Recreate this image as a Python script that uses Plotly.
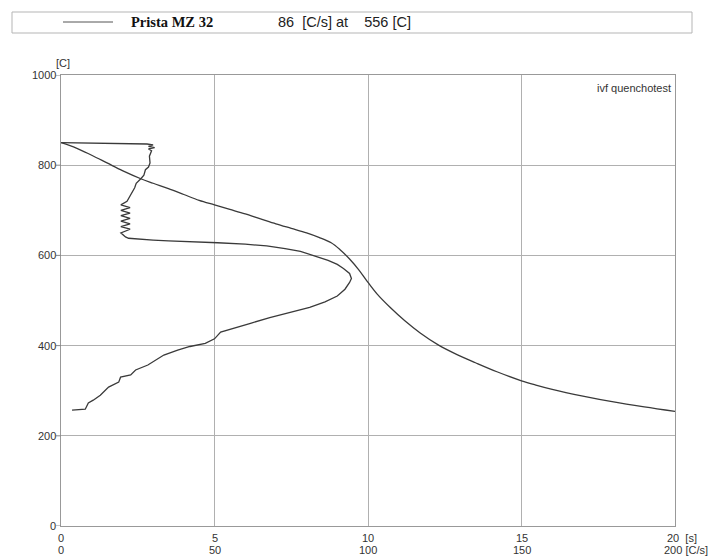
import plotly.graph_objects as go

# ---- data ----
cool_time = [0, 0.5, 1.0, 1.5, 2.0, 2.6, 3.0, 3.5, 4.0, 4.5, 5.0, 5.5, 6.0, 6.5, 7.0, 7.5,
             8.0, 8.4, 8.8, 9.1, 9.4, 9.7, 10.0, 10.3, 10.7, 11.2, 11.7, 12.3, 12.9, 13.5,
             14.2, 15.0, 15.5, 16.0, 17.0, 18.0, 19.0, 20.0]
cool_temp = [850, 838, 822, 805, 788, 770, 760, 748, 735, 722, 712, 702, 692, 681, 670, 660,
             650, 640, 628, 612, 592, 568, 540, 514, 486, 455, 428, 401, 380, 362,
             342, 322, 312, 303, 288, 275, 264, 254]

rate_val = [0, 10, 20, 28, 30, 28.5, 30.5, 28.5, 29.5, 28.8, 29, 28.5, 27.5, 27, 26, 24.5, 24,
            23, 22.5, 22, 21.5,
            19.5, 22.5, 19.5, 22.5, 19.5, 22.5, 19.5, 22.5, 19.5, 22.5, 19.5, 20.5, 21,
            22, 25, 30, 35, 45, 51, 60, 67, 73, 78, 83, 87, 90, 92, 94, 94.6,
            94, 92.5, 90, 86, 81, 75, 68, 62, 57, 52, 50, 47, 42, 38, 33.5, 28.3, 24.3,
            22.7, 19.4, 18.8, 15.5, 12.8, 10.5, 8.9, 7.9, 3.6]
rate_temp = [850, 849, 848, 847, 845, 842, 839, 836, 832, 820, 805, 796, 790, 778, 770, 760, 750,
             738, 730, 725, 720,
             712, 706, 700, 694, 688, 682, 676, 670, 664, 658, 650, 644, 641,
             638, 636, 634, 632, 630, 628, 625, 621, 615, 609, 598, 589, 580, 571, 560, 549,
             540, 525, 510, 497, 485, 475, 462, 450, 440, 430, 415, 405, 398, 390, 379, 357, 346,
             335, 330, 319, 308, 290, 279, 273, 259, 257]

x_ticks = [0, 5, 10, 15, 20]
x_time_labels = ["0", "5", "10", "15", "20  [s]"]
x_rate_labels = ["0", "50", "100", "150", "200 [C/s]"]
y_ticks = [0, 200, 400, 600, 800, 1000]
y_labels = ["0", "200", "400", "600", "800", "1000"]

title_name = "Prista MZ 32"
title_info = "86  [C/s] at    556 [C]"
corner_text = "ivf quenchotest"

# ---- geometry (screen pixels; the page body adds an 8px offset) ----
OFF = 8
W, H = 716 - OFF, 560 - OFF
L, R, T, B = 61, 675, 75, 526


def px(x):
    return (x - L) / (R - L)


def py(y):
    return (B - y) / (B - T)


fig = go.Figure()
line_style = dict(color="#3a3a3a", width=1.3)
fig.add_trace(go.Scatter(x=cool_time, y=cool_temp, mode="lines", line=line_style,
                         line_shape="spline", showlegend=False, hoverinfo="skip"))
fig.add_trace(go.Scatter(x=[r / 10 for r in rate_val], y=rate_temp, mode="lines",
                         line=line_style, showlegend=False, hoverinfo="skip"))

annotations = []
font_s = dict(family="Liberation Sans, Arial", size=11, color="#333333")
for v, a, b in zip(x_ticks, x_time_labels, x_rate_labels):
    xanchor = "left" if v == 20 else "center"
    annotations.append(dict(x=v, y=py(538), xref="x", yref="paper", text=a, showarrow=False,
                            font=font_s, xanchor=xanchor, yanchor="middle",
                            xshift=-10 if v == 20 else 0))
    annotations.append(dict(x=v, y=py(550), xref="x", yref="paper", text=b, showarrow=False,
                            font=font_s, xanchor=xanchor, yanchor="middle",
                            xshift=-13 if v == 20 else 0))
for v, lab in zip(y_ticks, y_labels):
    annotations.append(dict(x=px(58), y=v, xref="paper", yref="y", text=lab, showarrow=False,
                            font=font_s, xanchor="right", yanchor="middle"))
annotations.append(dict(x=px(54), y=py(63), xref="paper", yref="paper", text="[C]",
                        showarrow=False, font=font_s, xanchor="left", yanchor="middle"))
annotations.append(dict(x=px(673), y=py(88), xref="paper", yref="paper", text=corner_text,
                        showarrow=False, font=font_s, xanchor="right", yanchor="middle"))
annotations.append(dict(x=px(129), y=py(22), xref="paper", yref="paper",
                        text="<b>" + title_name + "</b>", showarrow=False,
                        font=dict(family="Liberation Serif, Times New Roman", size=14.5,
                                  color="#111"),
                        xanchor="left", yanchor="middle"))
annotations.append(dict(x=px(276), y=py(22), xref="paper", yref="paper", text=title_info,
                        showarrow=False,
                        font=dict(family="Liberation Sans, Arial", size=14.5, color="#222"),
                        xanchor="left", yanchor="middle"))

shapes = [
    dict(type="rect", xref="paper", yref="paper", x0=px(12), x1=px(692), y0=py(12), y1=py(33),
         line=dict(color="#b5b5b5", width=1)),
    dict(type="line", xref="paper", yref="paper", x0=px(63), x1=px(113), y0=py(22), y1=py(22),
         line=dict(color="#555", width=1)),
]
for v in y_ticks:
    shapes.append(dict(type="line", xref="paper", yref="y", x0=px(56), x1=px(61), y0=v, y1=v,
                       line=dict(color="#888", width=1)))

fig.update_layout(
    width=W, height=H,
    margin=dict(l=L - OFF, r=W - (R - OFF), t=T - OFF, b=H - (B - OFF)),
    paper_bgcolor="white", plot_bgcolor="white",
    xaxis=dict(range=[0, 20], tickvals=x_ticks, showticklabels=False, showgrid=True,
               gridcolor="#b0b0b0", gridwidth=1, zeroline=False, showline=True,
               linecolor="#999", linewidth=1, mirror=True, fixedrange=True),
    yaxis=dict(range=[0, 1000], tickvals=y_ticks, showticklabels=False, showgrid=True,
               gridcolor="#b0b0b0", gridwidth=1, zeroline=False, showline=True,
               linecolor="#999", linewidth=1, mirror=True, fixedrange=True),
    annotations=annotations,
    shapes=shapes,
)

fig.write_html("out.html")
